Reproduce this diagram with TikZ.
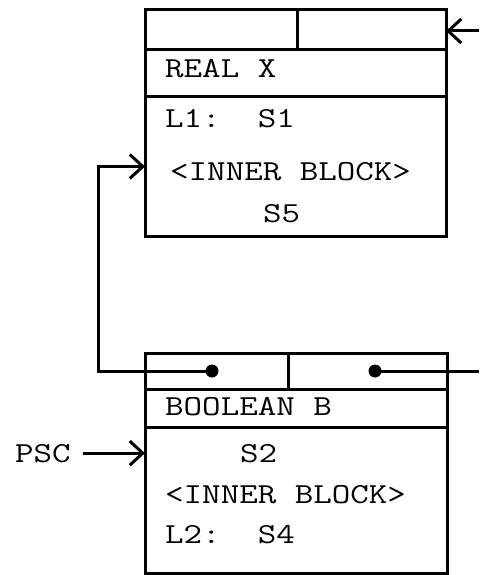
\documentclass[tikz,border=0pt]{standalone}
\usepackage{fontspec}
\usepackage{graphicx}
\usetikzlibrary{arrows.meta}
\newcommand{\blockFont}{\fontsize{29}{32}\selectfont\ttfamily}
\newcommand{\wideText}[1]{\scalebox{1.24}[1]{#1}}

\begin{document}
\begin{tikzpicture}
[x=1pt,y=-1pt,
  fieldDecorate/.style={shape=rectangle,draw,line width=3pt,anchor=north west,inner sep=0pt,outer sep=0pt},
  textDecorate/.style={anchor=base west,inner sep=0pt,font=\blockFont},
  dotDecorate/.style={shape=circle,fill,inner sep=0pt,minimum size=13pt},
  lineDecorate/.style={-,line width=3pt},
  arrowDecorate/.style={line width=3pt,-{Straight Barb[length=13pt,width=24pt]}}]
\useasboundingbox (0,0) rectangle (479,575);
%% fields of the two blocks
\foreach \fieldname/\x/\y/\w/\h in {
  ptrA1/145/10/152/40, ptrA2/297/10/149/40, declA/145/50/301/47, bodyA/145/97/301/139,
  ptrB1/145/353/143/36, ptrB2/288/353/159/36, declB/145/389/302/38, bodyB/145/427/302/146}
{
  \node (\fieldname) at (\x,\y) [fieldDecorate,minimum width=\w,minimum height=\h] {};
}
%% texts
\foreach \textname/\x/\y/\label in {
  realX/165/78/REAL X, stmtA1/165/128/L1:~~S1, innerA/170/180/<INNER BLOCK>, stmtA5/263/222/S5,
  boolB/165/415/BOOLEAN B, stmtB2/240/462/S2, innerB/165/503/<INNER BLOCK>, stmtB4/165/543/L2:~~S4,
  psc/15/462/PSC}
{
  \node (\textname) at (\x,\y) [textDecorate] {\wideText{\label}};
}
%% pointers
\node (dotB1) at (212,371) [dotDecorate] {};
\node (dotB2) at (375,371) [dotDecorate] {};
\coordinate (entryA) at (479,31);
\coordinate (exitB) at (479,371);
\draw[arrowDecorate] (entryA) -- (entryA -| ptrA2.east);
\draw[arrowDecorate] (dotB1.center) -| ([xshift=-47pt]bodyA.west) -- (bodyA.west);
\draw[lineDecorate] (dotB2.center) -- (exitB);
\draw[arrowDecorate,shorten <=12pt] (psc.east) -- (psc.east -| bodyB.west);
\end{tikzpicture}
\end{document}
